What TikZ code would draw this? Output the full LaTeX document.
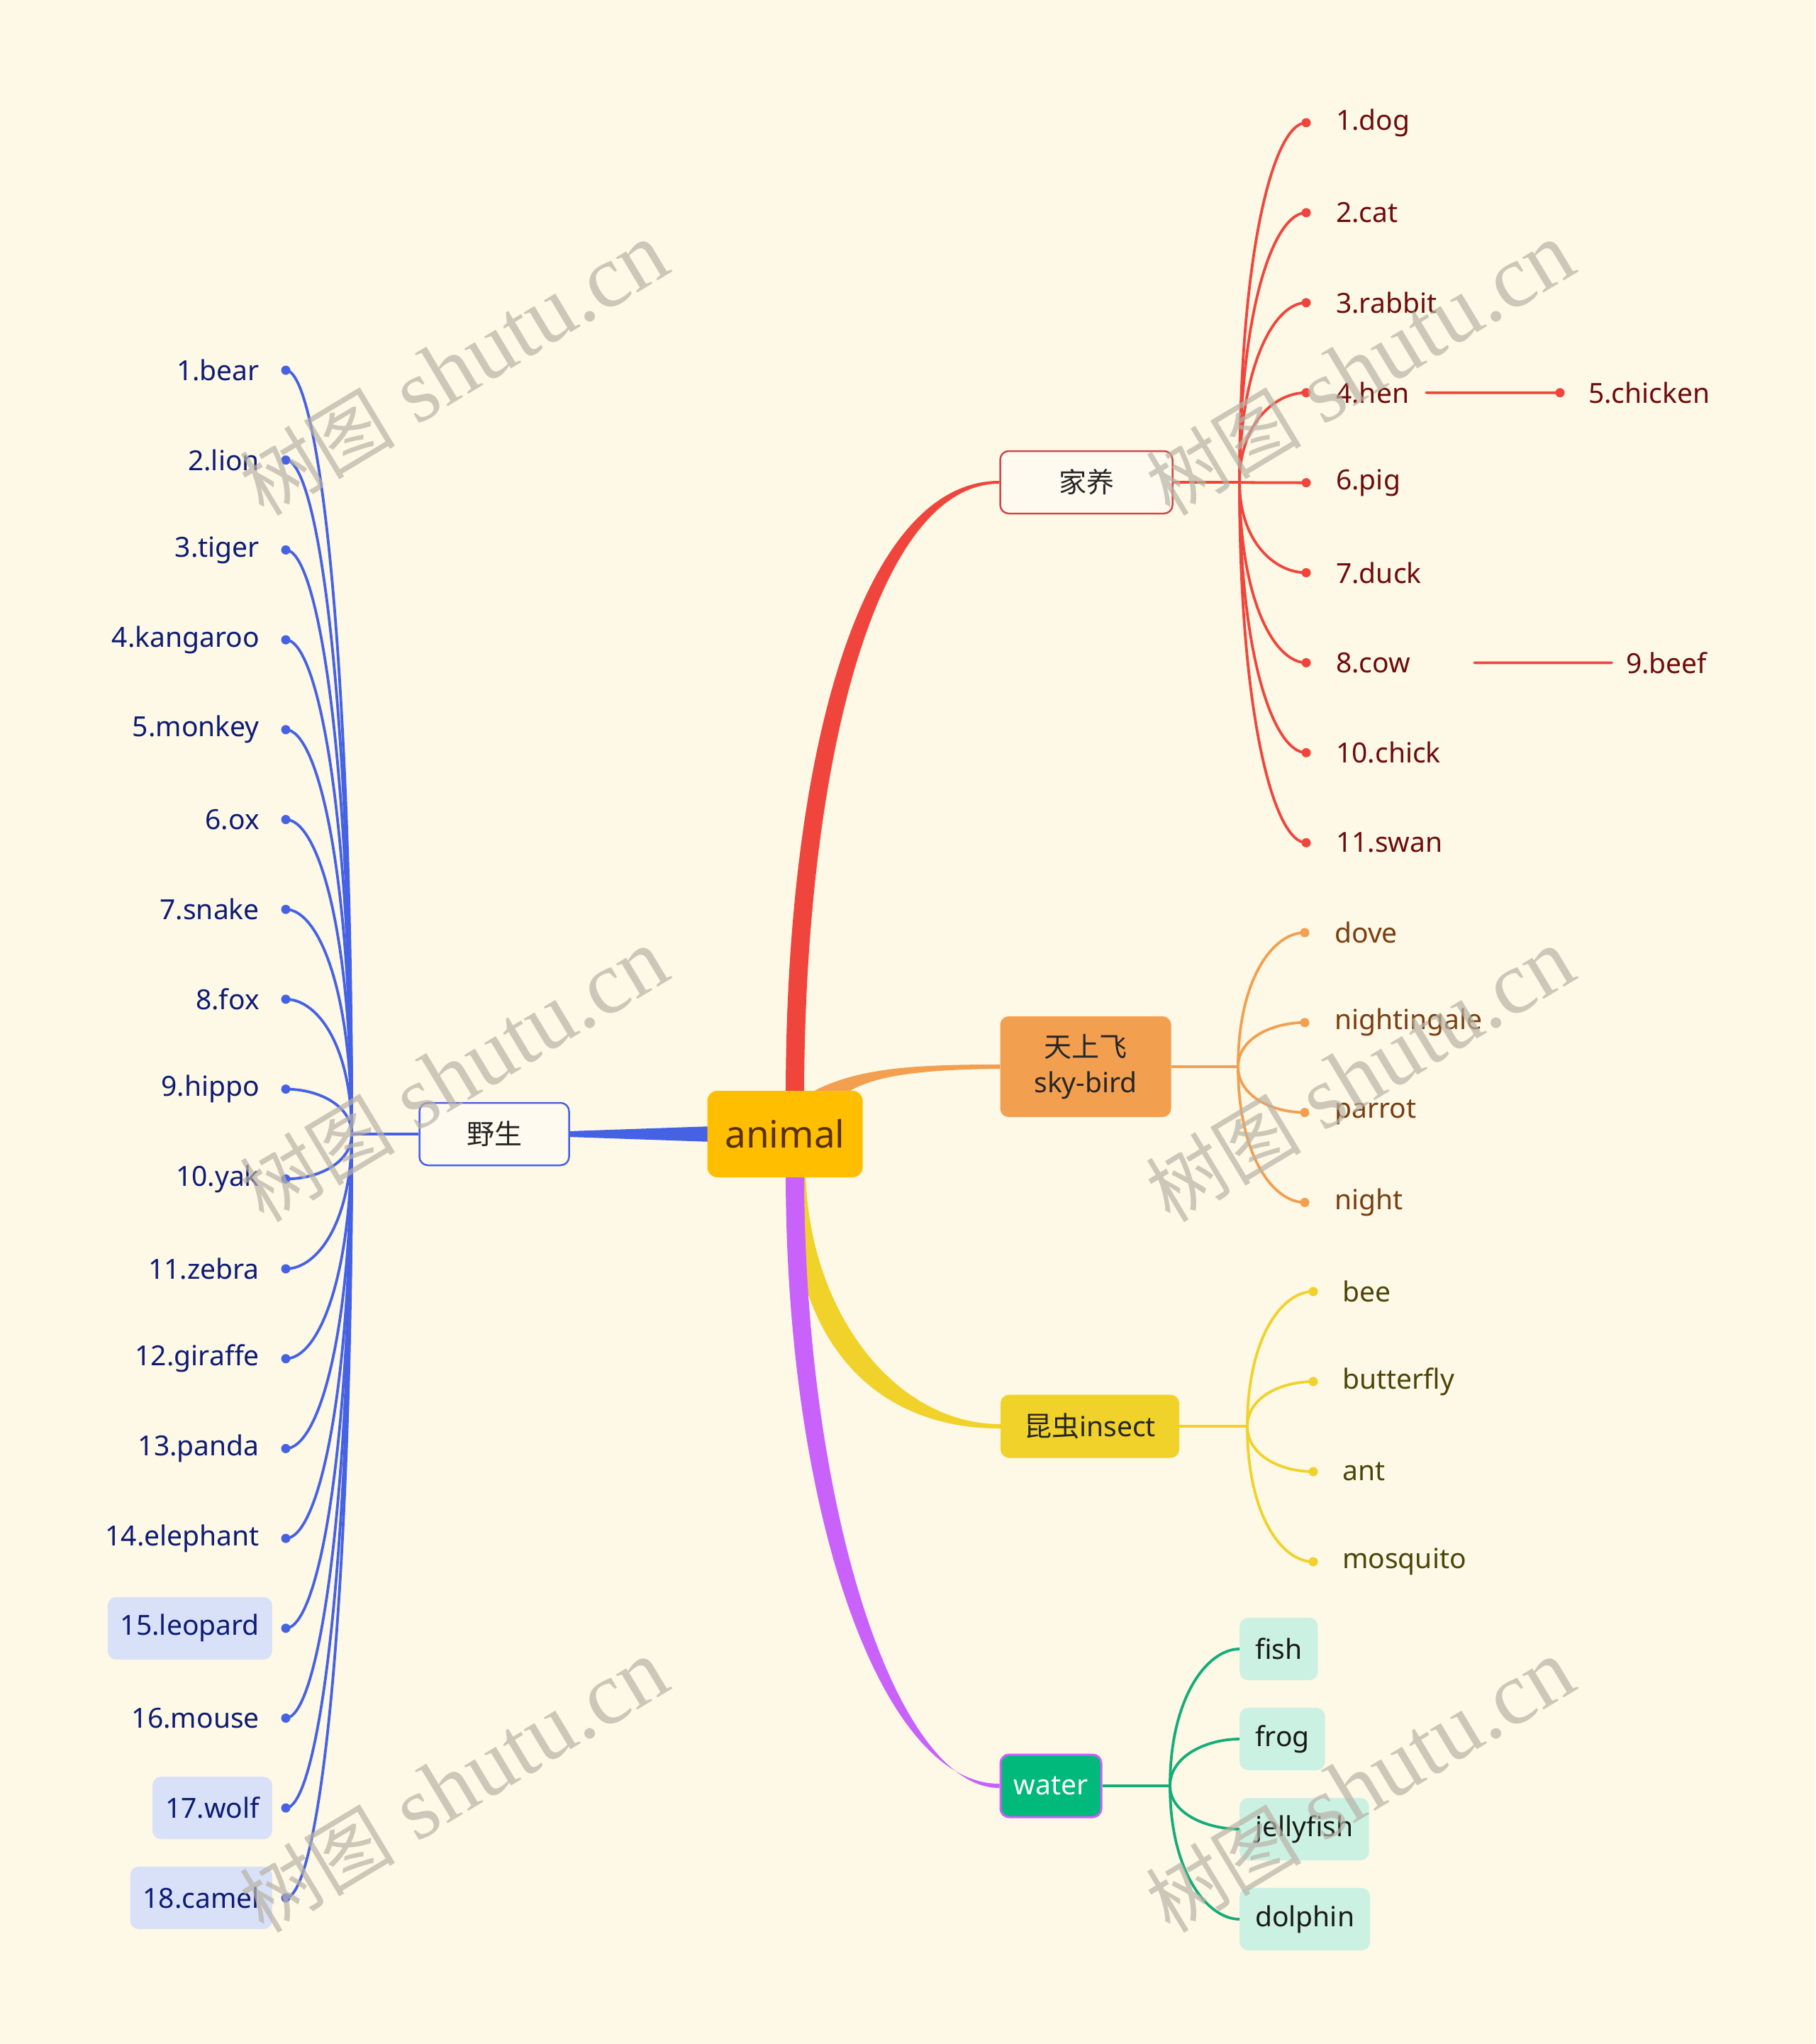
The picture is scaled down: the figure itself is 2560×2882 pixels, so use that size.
\documentclass[tikz,border=0pt]{standalone}
\usepackage{fontspec}
\setmainfont{Noto Sans}
\newfontfamily\cjk{Noto Sans CJK SC}
\newfontfamily\wmserif{Liberation Serif}
\usetikzlibrary{calc}
\pgfdeclarelayer{back}
\pgfdeclarelayer{bg}
\pgfdeclarelayer{front}
\pgfsetlayers{back,bg,main,front}
\definecolor{bgc}{HTML}{FEF8E6}
\definecolor{rootc}{HTML}{FFBF00}
\definecolor{roottxt}{HTML}{5A3000}
\definecolor{bluec}{HTML}{4662E4}
\definecolor{bluetxt}{HTML}{0D1B75}
\definecolor{hlblue}{HTML}{D8E1F7}
\definecolor{redc}{HTML}{F0453C}
\definecolor{redtxt}{HTML}{6E0B0B}
\definecolor{redbd}{HTML}{D04848}
\definecolor{orc}{HTML}{F2A050}
\definecolor{ortxt}{HTML}{7A3E10}
\definecolor{yelc}{HTML}{F0D22A}
\definecolor{yeltxt}{HTML}{4D4508}
\definecolor{purc}{HTML}{C862FA}
\definecolor{grc}{HTML}{12AD78}
\definecolor{waterc}{HTML}{00B97A}
\definecolor{grfill}{HTML}{CBF1E3}
\definecolor{lbl}{HTML}{262626}
\definecolor{boxfill}{HTML}{FFFAF0}
\definecolor{wmc}{HTML}{B8B3A6}
\tikzset{
  lf/.style={font=\fontsize{39}{47}\selectfont, inner sep=0pt},
  brbox/.style={rounded corners=12pt, font=\fontsize{39}{50}\selectfont, inner sep=0pt, align=center, text=lbl},
  ln/.style={line width=3.8pt, line cap=round},
  stem/.style={line width=4pt},
  wm/.style={rotate=31, text=wmc, opacity=0.7, inner sep=0pt, font=\fontsize{126}{130}\selectfont\wmserif},
}
\begin{document}
\begin{tikzpicture}[x=1pt,y=-1pt]
\begin{pgfonlayer}{back}
\fill[bgc] (0,0) rectangle (2560,2882);
\end{pgfonlayer}
\useasboundingbox (0,0) rectangle (2560,2882);

% ---------- main topic and branches ----------
\node[rounded corners=14pt, fill=rootc, minimum width=219pt, minimum height=122pt, inner sep=0pt,
      text=roottxt, font=\fontsize{53}{60}\selectfont] (root) at (1107,1599) {animal};
\node[brbox, draw=bluec, line width=2.5pt, fill=boxfill, minimum width=211pt, minimum height=88pt] (yesheng) at (697,1599) {\cjk 野生};
\node[brbox, draw=redbd, line width=2.5pt, fill=boxfill, minimum width=243pt, minimum height=88pt] (jiayang) at (1532,680) {\cjk 家养};
\node[brbox, fill=orc, minimum width=241pt, minimum height=142pt] (sky) at (1531,1504) {{\cjk 天上飞}\\sky-bird};
\node[brbox, fill=yelc, minimum width=252pt, minimum height=89pt] (insect) at (1537,2011) {{\cjk 昆虫}insect};
\node[brbox, fill=waterc, draw=purc, line width=3pt, minimum width=142pt, minimum height=88pt, text=white] (water) at (1482,2518) {water};

% thick tapered connectors
\begin{pgfonlayer}{bg}
\fill[redc] ($(root.north)+(1,10)$) .. controls (1108,1060) and (1215,678) .. ($(jiayang.west)+(0,-2)$)
  -- ($(jiayang.west)+(0,2)$) .. controls (1232,682) and (1134,1090) .. ($(root.north)+(27,10)$) -- cycle;
\fill[orc] ($(root.north)+(28,8)$) .. controls (1200,1505) and (1290,1501) .. ($(sky.west)+(0,-3)$)
  -- ($(sky.west)+(0,3)$) .. controls (1300,1508) and (1225,1516) .. ($(root.north)+(80,8)$) -- cycle;
\fill[yelc] ($(root.south)+(29,-8)$) .. controls (1140,1850) and (1262,2008) .. ($(insect.west)+(0,-3)$)
  -- ($(insect.west)+(0,3)$) .. controls (1245,2015) and (1112,1905) .. ($(root.south)+(8,-8)$) -- cycle;
\fill[purc] ($(root.south)+(1,-8)$) .. controls (1108,2140) and (1245,2516) .. ($(water.west)+(0,-3)$)
  -- ($(water.west)+(0,3)$) .. controls (1262,2521) and (1134,2120) .. ($(root.south)+(27,-8)$) -- cycle;
\fill[bluec] ($(yesheng.east)+(-2,-4)$) -- ($(root.west)+(8,-11)$) -- ($(root.west)+(8,11)$) -- ($(yesheng.east)+(-2,4)$) -- cycle;
\end{pgfonlayer}

% ---------- left: wild ----------
\coordinate (jl) at (496,1599);
\begin{pgfonlayer}{bg}
\draw[stem, bluec] (yesheng.west) -- (jl);
\end{pgfonlayer}
\foreach \t [count=\i] in {1.bear,2.lion,3.tiger,4.kangaroo,5.monkey,6.ox,7.snake,8.fox,9.hippo,10.yak,11.zebra,12.giraffe,13.panda,14.elephant,15.leopard,16.mouse,17.wolf,18.camel}{
  \pgfmathsetmacro\yy{522+(\i-1)*126.7}
  \pgfmathtruncatemacro\ishl{(\i==15)||(\i==17)||(\i==18)}
  \ifnum\ishl=1 \tikzset{cur/.style={fill=hlblue}}\else\tikzset{cur/.style={}}\fi
  \coordinate (bd\i) at (403,\yy);
  \node[lf, cur, rounded corners=12pt, inner xsep=18pt, minimum height=88pt, text=bluetxt, anchor=east] (bt\i) at (384,\yy) {\t};
  \begin{pgfonlayer}{bg}
  \draw[ln, bluec] (bd\i) .. controls ($(bd\i)+(45,0)$) and ($(bd\i -| jl)!0.35!(jl)$) .. (jl);
  \end{pgfonlayer}
  \fill[bluec] (bd\i) circle (6.5pt);
}

% ---------- right: domestic ----------
\coordinate (jr) at (1748,680);
\begin{pgfonlayer}{bg}
\draw[stem, redc] (jiayang.east) -- (jr);
\end{pgfonlayer}
\foreach \t [count=\i] in {1.dog,2.cat,3.rabbit,4.hen,6.pig,7.duck,8.cow,10.chick,11.swan}{
  \pgfmathsetmacro\yy{173+(\i-1)*126.9}
  \coordinate (rd\i) at (1842,\yy);
  \node[lf, text=redtxt, anchor=west] (rt\i) at (1884,\yy) {\t};
  \begin{pgfonlayer}{bg}
  \draw[ln, redc] (rd\i) .. controls ($(rd\i)+(-45,0)$) and ($(rd\i -| jr)!0.35!(jr)$) .. (jr);
  \end{pgfonlayer}
  \fill[redc] (rd\i) circle (6.5pt);
}
\node[lf, text=redtxt, anchor=west] (chicken) at (2240,553.7) {5.chicken};
\coordinate (chd) at (2200,553.7);
\draw[ln, redc] ($(rt4.east)+(24,0)$) -- (chd);
\fill[redc] (chd) circle (6.5pt);
\node[lf, text=redtxt, anchor=west] (beef) at (2293,934.4) {9.beef};
\draw[ln, redc] ($(rt7.east)+(90,0)$) -- ($(beef.west)+(-20,0)$);

% ---------- sky birds ----------
\coordinate (jo) at (1746,1504);
\begin{pgfonlayer}{bg}
\draw[stem, orc] (sky.east) -- (jo);
\end{pgfonlayer}
\foreach \t [count=\i] in {dove,nightingale,parrot,night}{
  \pgfmathsetmacro\yy{1315+(\i-1)*126.8}
  \coordinate (od\i) at (1840,\yy);
  \node[lf, text=ortxt, anchor=west] (ot\i) at (1882,\yy) {\t};
  \begin{pgfonlayer}{bg}
  \draw[ln, orc] (od\i) .. controls ($(od\i)+(-45,0)$) and ($(od\i -| jo)!0.35!(jo)$) .. (jo);
  \end{pgfonlayer}
  \fill[orc] (od\i) circle (6.5pt);
}

% ---------- insects ----------
\coordinate (jy) at (1759,2011);
\begin{pgfonlayer}{bg}
\draw[stem, yelc] (insect.east) -- (jy);
\end{pgfonlayer}
\foreach \t [count=\i] in {bee,butterfly,ant,mosquito}{
  \pgfmathsetmacro\yy{1821+(\i-1)*127}
  \coordinate (yd\i) at (1852,\yy);
  \node[lf, text=yeltxt, anchor=west] (yt\i) at (1893,\yy) {\t};
  \begin{pgfonlayer}{bg}
  \draw[ln, yelc] (yd\i) .. controls ($(yd\i)+(-45,0)$) and ($(yd\i -| jy)!0.35!(jy)$) .. (jy);
  \end{pgfonlayer}
  \fill[yelc] (yd\i) circle (6.5pt);
}

% ---------- water ----------
\coordinate (jg) at (1650,2518);
\begin{pgfonlayer}{bg}
\draw[stem, grc] (water.east) -- (jg);
\end{pgfonlayer}
\foreach \t [count=\i] in {fish,frog,jellyfish,dolphin}{
  \pgfmathsetmacro\yy{2325+(\i-1)*127}
  \node[lf, fill=grfill, rounded corners=12pt, inner xsep=22pt, minimum height=88pt, text=black!90, anchor=west] (gt\i) at (1748,\yy) {\t};
  \begin{pgfonlayer}{bg}
  \draw[ln, grc] (gt\i.west) .. controls ($(gt\i.west)+(-45,0)$) and ($(gt\i.west -| jg)!0.35!(jg)$) .. (jg);
  \end{pgfonlayer}
}

% ---------- watermarks ----------
\begin{pgfonlayer}{front}
\foreach \wx/\wy [count=\k] in {640/520,1918/520,640/1516,1918/1516,640/2518,1918/2518}{
  \node[wm] (wm\k) at (\wx,\wy) {{\cjk\fontsize{110}{112}\selectfont 树图} shutu.cn};
}
\end{pgfonlayer}
\end{tikzpicture}
\end{document}
